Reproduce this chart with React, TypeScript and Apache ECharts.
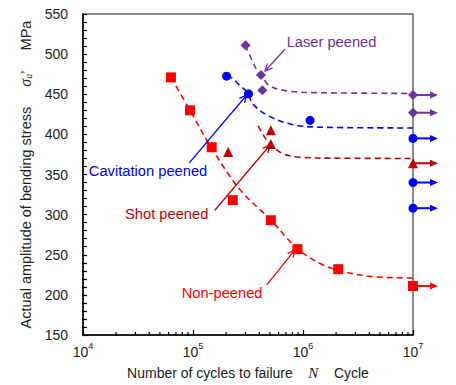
import React, { useEffect, useRef } from "react";
import * as echarts from "echarts";

// ---- data ----
const runoutN = 1e7;

const nonPeenedN = [6.3e4, 9.4e4, 1.48e5, 2.3e5, 5.1e5, 8.9e5, 2.09e6];
const nonPeenedS = [471, 430, 384, 318, 293, 257, 232];
const nonPeenedRunout = [211];
const nonCurveN = [6.3e4, 9.39e4, 1.46e5, 2.68e5, 5.12e5, 8.82e5, 1.43e6, 2.17e6, 4.06e6, 1e7];
const nonCurveS = [471, 430, 384, 331, 293, 258, 239, 230, 223, 221];

const shotN = [2.09e5, 5.1e5, 5.1e5];
const shotS = [378, 405, 388];
const shotRunout = [364];
const shotCurveN = [3.9e5, 4.51e5, 5.12e5, 6.44e5, 9.4e5, 2.17e6, 1e7];
const shotCurveS = [410.6, 396, 387.5, 376.5, 371.5, 370.3, 370];

const cavN = [2.02e5, 3.2e5, 1.16e6];
const cavS = [472.5, 450.5, 417.5];
const cavRunout = [395, 340, 308];
const cavCurveN = [2.02e5, 2.26e5, 2.57e5, 3.2e5, 3.44e5, 4.71e5, 7.62e5, 1.34e6, 1e7];
const cavCurveS = [472.5, 470.5, 463, 450.5, 439, 424, 413, 409, 408];

const laserN = [3.0e5, 4.15e5, 4.27e5];
const laserS = [511, 474, 455];
const laserRunout = [449, 427];
const laserCurveN = [3.0e5, 3.74e5, 4.15e5, 5.0e5, 7.6e5, 1.33e6, 1e7];
const laserCurveS = [511, 482, 474, 460.3, 453.7, 452, 451];

const minorTickN = [
  2e4, 3e4, 4e4, 5e4, 6e4, 7e4, 8e4, 9e4,
  2e5, 3e5, 4e5, 5e5, 6e5, 7e5, 8e5, 9e5,
  2e6, 3e6, 4e6, 5e6, 6e6, 7e6, 8e6, 9e6,
];

// annotations: text, colour, text anchor (N, σ), arrow start (N, σ), arrow tip (N, σ)
const annoText = ["Laser peened", "Cavitation peened", "Shot peened", "Non-peened"];
const annoColor = ["#7030A0", "#0000FF", "#C00000", "#FF0000"];
const annoTextPos = [
  [7.1e5, 514.5],
  [1.13e4, 354.3],
  [2.41e4, 301.3],
  [7.89e4, 202.2],
];
const annoFrom = [
  [6.86e5, 506],
  [9.25e4, 364.4],
  [1.58e5, 305.4],
  [4.68e5, 212.4],
];
const annoTo = [
  [4.52e5, 479],
  [3.07e5, 448.8],
  [5.0e5, 386.5],
  [8.45e5, 256],
];

const RED = "#FF0000";
const DARKRED = "#C00000";
const BLUE = "#0000FF";
const PURPLE = "#7030A0";
const FONT = "'Liberation Sans', Arial, sans-serif";

const zip = (a: number[], b: number[]) => a.map((v, i) => [v, b[i]]);

function curve(n: number[], s: number[], color: string) {
  return {
    type: "line",
    data: zip(n, s),
    smooth: 0.35,
    showSymbol: false,
    symbol: "none",
    z: 2,
    lineStyle: { color, width: 1.6, type: [6, 4] },
    silent: true,
  };
}

function markers(n: number[], s: number[], runs: number[], symbol: string, size: number, color: string) {
  const pts = zip(n, s).concat(runs.map((r) => [runoutN, r]));
  return {
    type: "scatter",
    data: pts,
    symbol,
    symbolSize: size,
    itemStyle: { color, opacity: 1 },
    clip: false,
    z: 5,
  };
}

function runoutArrows(runs: number[], color: string) {
  return {
    type: "custom",
    clip: false,
    z: 4,
    data: runs.map((r) => [runoutN, r]),
    renderItem: (_p: any, api: any) => {
      const p = api.coord([api.value(0), api.value(1)]);
      const L = 25;
      return {
        type: "group",
        children: [
          {
            type: "line",
            shape: { x1: p[0], y1: p[1], x2: p[0] + L - 6, y2: p[1] },
            style: { stroke: color, lineWidth: 2 },
          },
          {
            type: "polygon",
            shape: {
              points: [
                [p[0] + L - 8, p[1] - 3.5],
                [p[0] + L, p[1]],
                [p[0] + L - 8, p[1] + 3.5],
              ],
            },
            style: { fill: color },
          },
        ],
      };
    },
  };
}

export default function App() {
  const ref = useRef<HTMLDivElement>(null);
  useEffect(() => {
    if (!ref.current) return;
    const chart = echarts.init(ref.current, null, { renderer: "svg" });
    const yMin = 150;
    chart.setOption({
      animation: false,
      backgroundColor: "#fff",
      grid: {
        left: 83,
        right: 43,
        top: 14,
        bottom: 44,
        show: true,
        borderColor: "#666",
        borderWidth: 1.5,
        backgroundColor: "transparent",
      },
      xAxis: {
        type: "log",
        logBase: 10,
        min: 1e4,
        max: 1e7,
        axisLine: { show: true, lineStyle: { color: "#000", width: 1.5 } },
        axisTick: { show: true, inside: true, length: 5, lineStyle: { color: "#000", width: 1.2 } },
        minorTick: { show: false },
        splitLine: { show: false },
        axisLabel: {
          margin: 6,
          formatter: (v: number) => `{b|10}{s|${Math.round(Math.log10(v))}}`,
          rich: {
            b: { fontSize: 14, fontFamily: FONT, color: "#222", lineHeight: 18, verticalAlign: "bottom" },
            s: { fontSize: 9, fontFamily: FONT, color: "#222", lineHeight: 10, verticalAlign: "top" },
          },
        },
        name: "{t|Number of cycles to failure}{t|    }{n|N}{t|    Cycle}",
        nameLocation: "middle",
        nameGap: 30,
        nameTextStyle: {
          rich: {
            t: { fontSize: 14, fontFamily: FONT, color: "#222" },
            n: { fontSize: 15, fontFamily: "'Liberation Serif', serif", fontStyle: "italic", color: "#222" },
          },
        },
      },
      yAxis: {
        type: "value",
        min: 150,
        max: 550,
        interval: 50,
        axisLine: { show: true, lineStyle: { color: "#000", width: 1.5 } },
        axisTick: { show: true, inside: true, length: 4, lineStyle: { color: "#000", width: 1.2 } },
        minorTick: { show: true, splitNumber: 5, length: 4, lineStyle: { color: "#000", width: 1.2 } },
        splitLine: { show: false },
        axisLabel: { fontSize: 14, fontFamily: FONT, color: "#222", margin: 15 },
        name: "{t|Actual amplitude of bending stress}{t|     }{g|σ}{sub|a}{t|’}{t|     MPa}",
        nameLocation: "middle",
        nameRotate: 90,
        nameGap: 44,
        nameTextStyle: {
          rich: {
            t: { fontSize: 14.5, fontFamily: FONT, color: "#222" },
            g: { fontSize: 16, fontFamily: "'Liberation Serif', serif", fontStyle: "italic", color: "#222" },
            sub: { fontSize: 10, fontFamily: "'Liberation Serif', serif", fontStyle: "italic", color: "#222", verticalAlign: "bottom", lineHeight: 10 },
          },
        },
      },
      series: [
        // minor x ticks
        {
          type: "custom",
          clip: false,
          z: 3,
          silent: true,
          data: minorTickN.map((v) => [v]),
          renderItem: (_p: any, api: any) => {
            const p = api.coord([api.value(0), yMin]);
            return {
              type: "line",
              shape: { x1: p[0], y1: p[1], x2: p[0], y2: p[1] - 3 },
              style: { stroke: "#000", lineWidth: 1.2 },
            };
          },
        },
        curve(nonCurveN, nonCurveS, RED),
        curve(shotCurveN, shotCurveS, DARKRED),
        curve(cavCurveN, cavCurveS, BLUE),
        curve(laserCurveN, laserCurveS, PURPLE),
        runoutArrows(nonPeenedRunout, RED),
        runoutArrows(shotRunout, DARKRED),
        runoutArrows(cavRunout, BLUE),
        runoutArrows(laserRunout, PURPLE),
        markers(nonPeenedN, nonPeenedS, nonPeenedRunout, "rect", 10, RED),
        markers(shotN, shotS, shotRunout, "triangle", 10, DARKRED),
        markers(cavN, cavS, cavRunout, "circle", 9, BLUE),
        markers(laserN, laserS, laserRunout, "diamond", 10, PURPLE),
        // annotations
        {
          type: "custom",
          clip: false,
          z: 6,
          silent: true,
          data: annoText.map((_, i) => [
            annoTextPos[i][0], annoTextPos[i][1],
            annoFrom[i][0], annoFrom[i][1],
            annoTo[i][0], annoTo[i][1],
          ]),
          renderItem: (params: any, api: any) => {
            const i = params.dataIndex;
            const color = annoColor[i];
            const t = api.coord([api.value(0), api.value(1)]);
            const a = api.coord([api.value(2), api.value(3)]);
            const b = api.coord([api.value(4), api.value(5)]);
            const ang = Math.atan2(b[1] - a[1], b[0] - a[0]);
            const h = 8;
            const w = 0.45;
            const l1 = [b[0] - h * Math.cos(ang - w), b[1] - h * Math.sin(ang - w)];
            const l2 = [b[0] - h * Math.cos(ang + w), b[1] - h * Math.sin(ang + w)];
            return {
              type: "group",
              children: [
                {
                  type: "text",
                  style: {
                    text: annoText[i],
                    x: t[0],
                    y: t[1],
                    fill: color,
                    fontSize: 14.7,
                    fontFamily: FONT,
                    align: "left",
                    verticalAlign: "middle",
                  },
                },
                {
                  type: "line",
                  shape: { x1: a[0], y1: a[1], x2: b[0], y2: b[1] },
                  style: { stroke: color, lineWidth: 1.3 },
                },
                {
                  type: "polyline",
                  shape: { points: [l1, b, l2] },
                  style: { stroke: color, lineWidth: 1.3, fill: "none" },
                },
              ],
            };
          },
        },
      ],
    });
    return () => chart.dispose();
  }, []);
  return (
    <div
      ref={ref}
      style={{ position: "fixed", left: 0, top: 0, width: 456, height: 385 }}
    />
  );
}
